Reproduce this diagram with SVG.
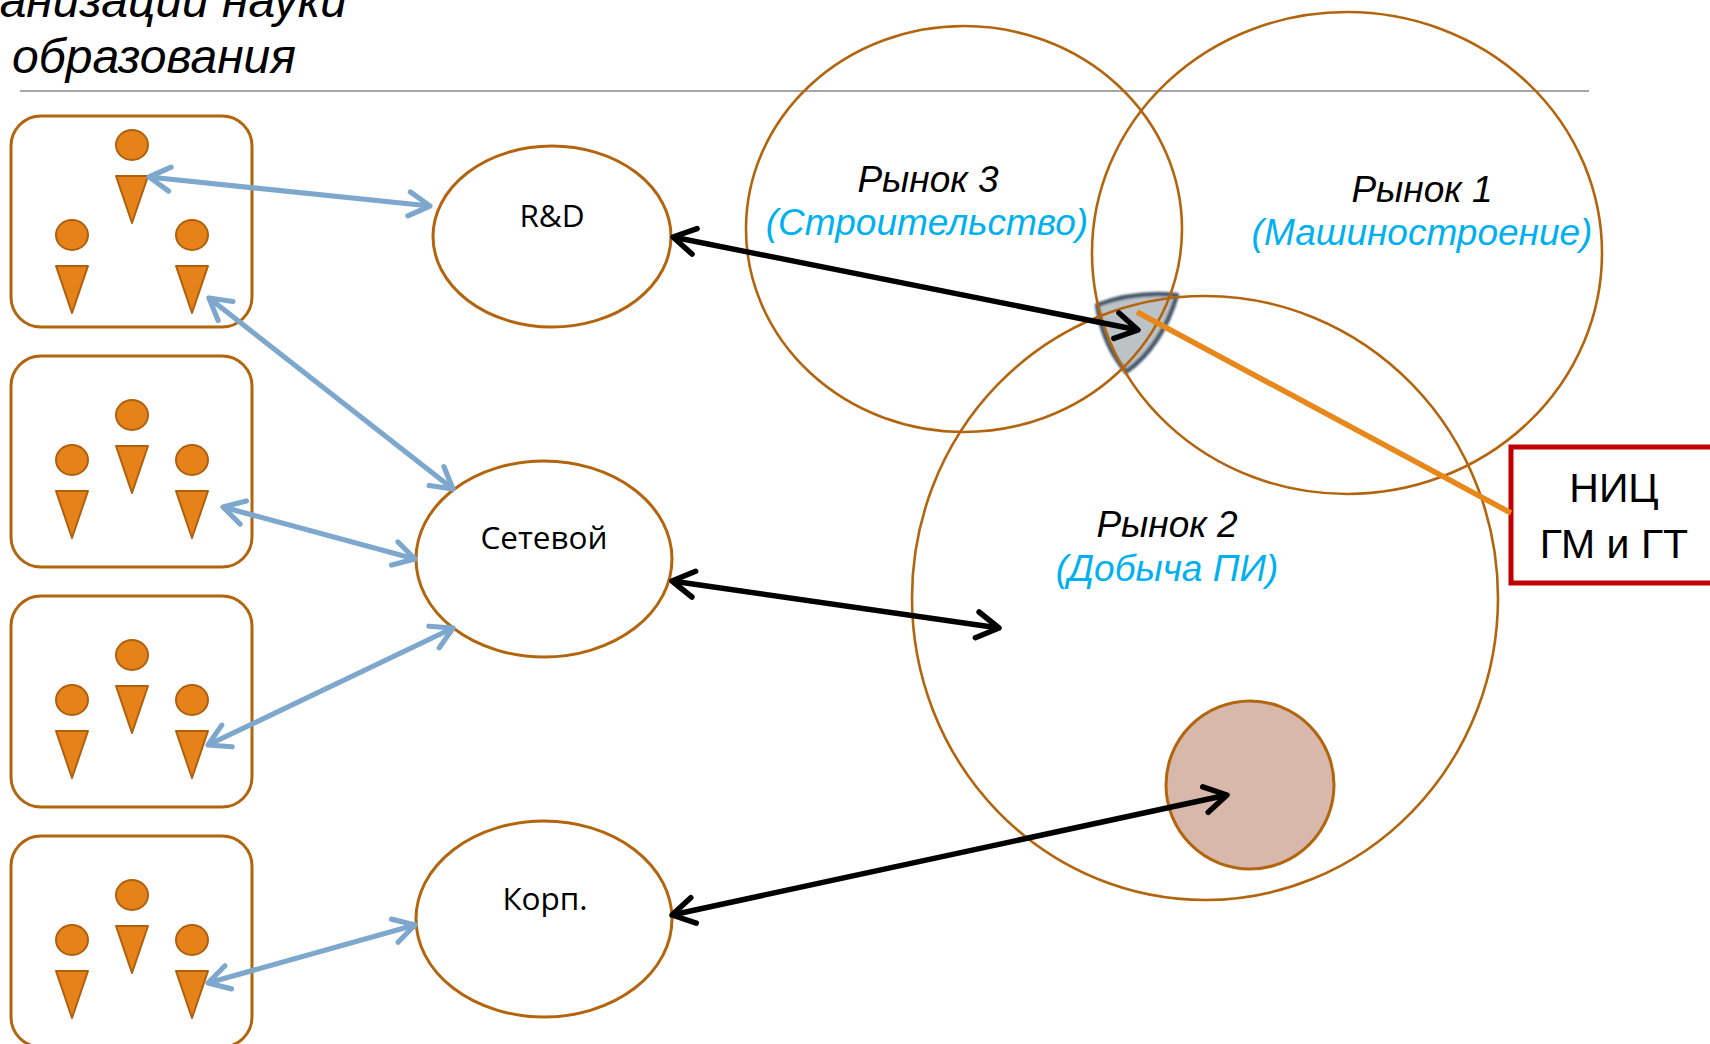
<svg xmlns="http://www.w3.org/2000/svg" width="1710" height="1044" viewBox="0 0 1710 1044">
<style>
.box{fill:#fff;stroke:#b3650e;stroke-width:3}
.pp{fill:#e6821a;stroke:#b0600c;stroke-width:2;stroke-linejoin:round}
.el{fill:#fff;stroke:#b3650e;stroke-width:3}
.mk{fill:none;stroke:#b3650e;stroke-width:2.6}
.lbl{font-family:"Open Sans","Noto Sans",sans-serif;font-size:31.5px;fill:#000;text-anchor:middle}
.mt{font-family:"Liberation Sans",Arial,sans-serif;font-style:italic;font-size:37px;fill:#000;text-anchor:middle}
.mb{fill:#00b0f0}
.blue{fill:none;stroke:#7da7cc;stroke-width:5.2}
.blk{fill:none;stroke:#000;stroke-width:5.5}
.ttl{font-family:"Liberation Sans",Arial,sans-serif;font-style:italic;font-size:48px;fill:#000}
.nic{font-family:"Liberation Sans",Arial,sans-serif;font-size:41px;fill:#000;text-anchor:middle}
</style>
<defs>
<g id="person">
<ellipse class="pp" cx="0" cy="0" rx="16" ry="15"/>
<path class="pp" d="M-16,31 L16,31 L0,78 Z"/>
</g>
<marker id="ah-blue" markerUnits="userSpaceOnUse" orient="auto-start-reverse" overflow="visible" markerWidth="1" markerHeight="1" refX="0" refY="0">
<path d="M-21,-12 L0,0 L-21,12" fill="none" stroke="#7da7cc" stroke-width="5.2" stroke-linecap="round" stroke-linejoin="round"/>
</marker>
<marker id="ah-black" markerUnits="userSpaceOnUse" orient="auto-start-reverse" overflow="visible" markerWidth="1" markerHeight="1" refX="0" refY="0">
<path d="M-22,-13 L0,0 L-22,13" fill="none" stroke="#000" stroke-width="5.5" stroke-linecap="round" stroke-linejoin="round"/>
</marker>
<filter id="soft" x="-20%" y="-20%" width="140%" height="140%"><feGaussianBlur stdDeviation="1.2"/></filter>
</defs>

<g id="title">
<text class="ttl" x="347" y="17" text-anchor="end">анизации науки</text>
<text class="ttl" x="12" y="73">образования</text>
<line x1="20" y1="91" x2="1589" y2="91" stroke="#a6a6a6" stroke-width="2"/>
</g>

<g id="group1">
<rect class="box" x="11" y="116" width="241" height="211" rx="30"/>
<use href="#person" x="132" y="145"/>
<use href="#person" x="72" y="235"/>
<use href="#person" x="192" y="235"/>
</g>
<g id="group2">
<rect class="box" x="11" y="356" width="241" height="211" rx="30"/>
<use href="#person" x="132" y="415"/>
<use href="#person" x="72" y="460"/>
<use href="#person" x="192" y="460"/>
</g>
<g id="group3">
<rect class="box" x="11" y="596" width="241" height="211" rx="30"/>
<use href="#person" x="132" y="655"/>
<use href="#person" x="72" y="700"/>
<use href="#person" x="192" y="700"/>
</g>
<g id="group4">
<rect class="box" x="11" y="836" width="241" height="211" rx="30"/>
<use href="#person" x="132" y="895"/>
<use href="#person" x="72" y="940"/>
<use href="#person" x="192" y="940"/>
</g>

<g id="rd">
<ellipse class="el" cx="552" cy="236.5" rx="119" ry="90.5"/>
<text class="lbl" x="552" y="227">R&amp;D</text>
</g>
<g id="setevoy">
<ellipse class="el" cx="544" cy="559" rx="128" ry="98"/>
<text class="lbl" x="544" y="549">Сетевой</text>
</g>
<g id="korp">
<ellipse class="el" cx="544" cy="919" rx="128" ry="98"/>
<text class="lbl" x="545" y="910">Корп.</text>
</g>

<g id="overlap">
<path d="M1097,305 Q1135,291 1177,295 Q1162,346 1126,372 Q1103,345 1097,305 Z" fill="#bcc2c6" stroke="#44586c" stroke-width="4.5" stroke-linejoin="round" filter="url(#soft)"/>
</g>

<g id="market3">
<ellipse class="mk" cx="964" cy="229" rx="218" ry="203"/>
<text class="mt" x="928" y="192">Рынок 3</text>
<text class="mt mb" x="927" y="235">(Строительство)</text>
</g>
<g id="market1">
<ellipse class="mk" cx="1347" cy="253" rx="255" ry="241"/>
<text class="mt" x="1422" y="202">Рынок 1</text>
<text class="mt mb" x="1422" y="245">(Машиностроение)</text>
</g>
<g id="market2">
<ellipse class="mk" cx="1205" cy="598" rx="293" ry="302"/>
<text class="mt" x="1167" y="537">Рынок 2</text>
<text class="mt mb" x="1167" y="581">(Добыча ПИ)</text>
</g>
<g id="segment">
<ellipse cx="1250" cy="785" rx="84" ry="84" fill="#d8b8aa" stroke="#b3650e" stroke-width="3"/>
</g>

<g id="nic">
<rect x="1511" y="447" width="220" height="136" fill="#fff" stroke="#c00000" stroke-width="5"/>
<text class="nic" x="1614" y="502">НИЦ</text>
<text class="nic" x="1614" y="558">ГМ и ГТ</text>
</g>

<g id="connectors">
<line class="blue" x1="149" y1="177" x2="430" y2="206" marker-start="url(#ah-blue)" marker-end="url(#ah-blue)"/>
<line class="blue" x1="209" y1="298" x2="453" y2="489" marker-start="url(#ah-blue)" marker-end="url(#ah-blue)"/>
<line class="blue" x1="223" y1="507" x2="415" y2="559" marker-start="url(#ah-blue)" marker-end="url(#ah-blue)"/>
<line class="blue" x1="453" y1="628" x2="208" y2="745" marker-start="url(#ah-blue)" marker-end="url(#ah-blue)"/>
<line class="blue" x1="208" y1="983" x2="415" y2="925" marker-start="url(#ah-blue)" marker-end="url(#ah-blue)"/>
<line class="blk" x1="673" y1="237" x2="1138" y2="330" marker-start="url(#ah-black)" marker-end="url(#ah-black)"/>
<line class="blk" x1="672" y1="581" x2="999" y2="628" marker-start="url(#ah-black)" marker-end="url(#ah-black)"/>
<line class="blk" x1="672" y1="915" x2="1227" y2="795" marker-start="url(#ah-black)" marker-end="url(#ah-black)"/>
<line x1="1137" y1="312" x2="1511" y2="513" stroke="#e8881a" stroke-width="5.5"/>
</g>
</svg>
